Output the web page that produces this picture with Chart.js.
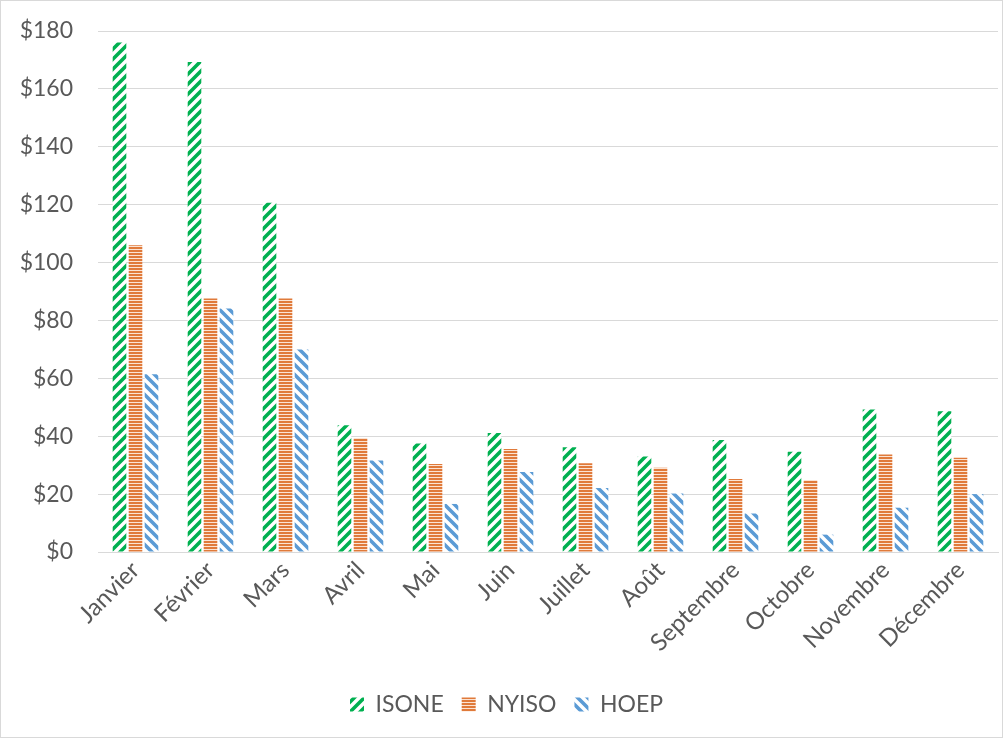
<!DOCTYPE html>
<html>
<head>
<meta charset="utf-8">
<script src="https://cdn.jsdelivr.net/npm/chart.js@4/dist/chart.umd.min.js"></script>
<style>
  html, body { margin: 0; padding: 0; background: #fff; }
  #wrap { position: absolute; left: 0; top: 0; width: 1001px; height: 736px; border: 1px solid #D9D9D9; }
  canvas { display: block; }
</style>
</head>
<body>
<div id="wrap"><canvas id="c" width="1001" height="736"></canvas></div>
<script>
const categories = ['Janvier','Février','Mars','Avril','Mai','Juin','Juillet','Août','Septembre','Octobre','Novembre','Décembre'];
const isone = [176, 169.3, 120.7, 43.8, 37.5, 41.1, 36.2, 33.0, 38.7, 34.6, 49.2, 48.6];
const nyiso = [106, 87.6, 87.6, 39.4, 30.4, 35.6, 30.7, 29.1, 25.2, 24.9, 33.7, 32.6];
const hoep = [61.4, 84.1, 70.0, 31.6, 16.6, 27.6, 22.1, 20.2, 13.3, 6.0, 15.3, 20.0];
const yTicks = [0, 20, 40, 60, 80, 100, 120, 140, 160, 180];

function diagPattern(color, dir) {
  const s = 10;
  const cv = document.createElement('canvas');
  cv.width = s; cv.height = s;
  const g = cv.getContext('2d');
  g.fillStyle = '#fff'; g.fillRect(0, 0, s, s);
  g.strokeStyle = color; g.lineWidth = 3.6; g.lineCap = 'square';
  g.beginPath();
  if (dir > 0) {
    g.moveTo(-s, s); g.lineTo(s, -s);
    g.moveTo(0, 2*s); g.lineTo(2*s, 0);
    g.moveTo(-s, 2*s); g.lineTo(2*s, -s);
  } else {
    g.moveTo(-s, 0); g.lineTo(s, 2*s);
    g.moveTo(0, -s); g.lineTo(2*s, s);
    g.moveTo(-s, -s); g.lineTo(2*s, 2*s);
  }
  g.stroke();
  return g.createPattern(cv, 'repeat');
}
function horizPattern(color) {
  const cv = document.createElement('canvas');
  cv.width = 4; cv.height = 3;
  const g = cv.getContext('2d');
  g.fillStyle = '#FBE3D3'; g.fillRect(0, 0, 4, 3);
  g.fillStyle = color; g.fillRect(0, 0, 4, 2);
  return g.createPattern(cv, 'repeat');
}

const pIsone = diagPattern('#00B050', 1);
const pNyiso = horizPattern('#E07A3A');
const pHoep = diagPattern('#5B9BD5', -1);

const font = "Lato, 'Open Sans', 'DejaVu Sans', sans-serif";

new Chart(document.getElementById('c'), {
  type: 'bar',
  data: {
    labels: categories,
    datasets: [
      { label: 'ISONE', data: isone, backgroundColor: pIsone, borderWidth: 0 },
      { label: 'NYISO', data: nyiso, backgroundColor: pNyiso, borderWidth: 0 },
      { label: 'HOEP', data: hoep, backgroundColor: pHoep, borderWidth: 0 }
    ]
  },
  options: {
    responsive: false,
    animation: false,
    layout: { padding: { left: 14, right: 4, top: 30, bottom: 11 } },
    datasets: { bar: { categoryPercentage: 0.64, barPercentage: 0.85 } },
    scales: {
      x: {
        grid: { display: false, drawTicks: false },
        border: { display: true, color: '#D9D9D9', width: 1 },
        afterFit: (s) => { s.height = 123; },
        ticks: { color: '#595959', font: { family: font, size: 24 }, maxRotation: 45, minRotation: 45, padding: 4 }
      },
      y: {
        min: 0, max: 180,
        afterBuildTicks: (s) => { s.ticks = yTicks.map(v => ({ value: v })); },
        afterFit: (s) => { s.width = 83; s.paddingTop = 0; s.paddingBottom = 0; },
        grid: { color: '#D9D9D9', drawTicks: false, lineWidth: 1 },
        border: { display: false },
        ticks: { color: '#595959', font: { family: font, size: 23 }, padding: 25, callback: (v) => '$' + v }
      }
    },
    plugins: {
      legend: {
        position: 'bottom',
        labels: { color: '#595959', font: { family: font, size: 23 }, boxWidth: 14, boxHeight: 14, padding: 18 }
      },
      tooltip: { enabled: false }
    }
  }
});
</script>
</body>
</html>
